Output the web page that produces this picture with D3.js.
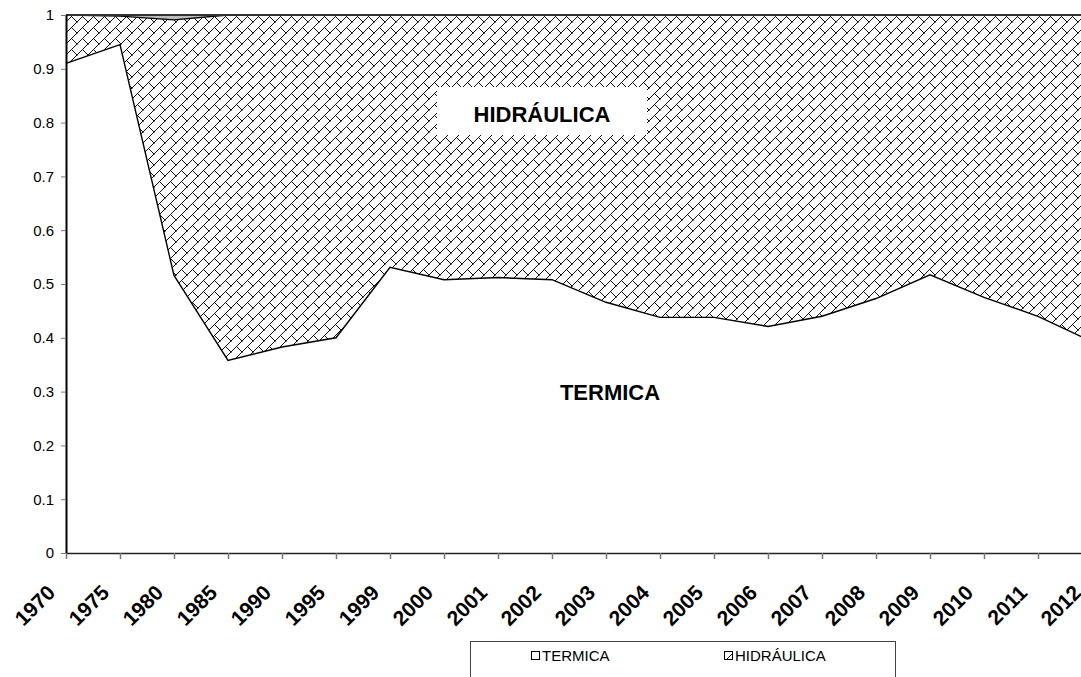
<!DOCTYPE html>
<html>
<head>
<meta charset="utf-8">
<script src="https://cdn.jsdelivr.net/npm/d3@7"></script>
<style>
  body { margin: 0; background: #fff; }
  svg { display: block; font-family: "Liberation Sans", Arial, sans-serif; }
</style>
</head>
<body>
<script>
// data (share of generation)
var years = ["1970", "1975", "1980", "1985", "1990", "1995", "1999", "2000", "2001", "2002",
  "2003", "2004", "2005", "2006", "2007", "2008", "2009", "2010", "2011", "2012"];
var termica = [0.910, 0.945, 0.516, 0.358, 0.383, 0.400, 0.531, 0.508, 0.512, 0.508,
  0.466, 0.438, 0.438, 0.421, 0.440, 0.473, 0.517, 0.475, 0.440, 0.393];
var hidraulica = [0.090, 0.053, 0.475, 0.642, 0.617, 0.600, 0.469, 0.492, 0.488, 0.492,
  0.534, 0.562, 0.562, 0.579, 0.560, 0.527, 0.483, 0.525, 0.560, 0.607];
var otras = [0, 0.002, 0.009, 0, 0, 0, 0, 0, 0, 0, 0, 0, 0, 0, 0, 0, 0, 0, 0, 0];
var yTicks = [0, 0.1, 0.2, 0.3, 0.4, 0.5, 0.6, 0.7, 0.8, 0.9, 1];
var keys = ["TERMICA", "HIDRÁULICA", "OTRAS"];

var W = 1081, H = 677;

var svg = d3.select("body").append("svg")
  .attr("width", W)
  .attr("height", H);

// diagonal brick pattern
var s = 11;
var defs = svg.append("defs");
var pat = defs.append("pattern")
  .attr("id", "brick")
  .attr("patternUnits", "userSpaceOnUse")
  .attr("width", s)
  .attr("height", s);
pat.append("rect").attr("width", s).attr("height", s).attr("fill", "#fff");
pat.append("path")
  .attr("d", "M-1," + (s + 1) + "L" + (s + 1) + ",-1" +
    "M-1,1L1,-1" +
    "M" + (s - 1) + "," + (s + 1) + "L" + (s + 1) + "," + (s - 1) +
    "M" + (s / 2) + "," + (s / 2) + "L" + (s + 1) + "," + (s + 1) +
    "M-1,-1L0.5,0.5")
  .attr("stroke", "#111")
  .attr("stroke-width", 1)
  .attr("fill", "none");

var x = d3.scalePoint().domain(years).range([66, 1092]);
var y = d3.scaleLinear().domain([0, 1]).range([553, 15]);

var rows = years.map(function (d, i) {
  return { year: d, "TERMICA": termica[i], "HIDRÁULICA": hidraulica[i], "OTRAS": otras[i] };
});
var series = d3.stack().keys(keys)(rows);

var area = d3.area()
  .x(function (d) { return x(d.data.year); })
  .y0(function (d) { return y(d[0]); })
  .y1(function (d) { return y(d[1]); });
var topLine = d3.line()
  .x(function (d) { return x(d.data.year); })
  .y(function (d) { return y(d[1]); });

var fills = ["#fff", "url(#brick)", "#bdbdbd"];

svg.selectAll("path.area")
  .data(series)
  .enter().append("path")
  .attr("class", "area")
  .attr("d", area)
  .attr("fill", function (d, i) { return fills[i]; });

svg.selectAll("path.edge")
  .data(series)
  .enter().append("path")
  .attr("class", "edge")
  .attr("d", topLine)
  .attr("fill", "none")
  .attr("stroke", function (d, i) { return i == 2 ? "#333" : "#000"; })
  .attr("stroke-width", function (d, i) { return i == 2 ? 2 : 1.4; });

// labels inside the chart
svg.append("rect")
  .attr("x", 437).attr("y", 87)
  .attr("width", 210).attr("height", 48)
  .attr("fill", "#fff");
svg.append("text")
  .attr("x", 542).attr("y", 122)
  .attr("text-anchor", "middle")
  .style("font-size", "22px")
  .style("font-weight", "bold")
  .text("HIDRÁULICA");
svg.append("text")
  .attr("x", 610).attr("y", 400)
  .attr("text-anchor", "middle")
  .style("font-size", "22px")
  .style("font-weight", "bold")
  .text("TERMICA");

// axes
var yAxis = d3.axisLeft(y)
  .tickValues(yTicks)
  .tickFormat(d3.format(".1~f"))
  .tickSize(5)
  .tickSizeOuter(0)
  .tickPadding(7);
var gy = svg.append("g")
  .attr("transform", "translate(66,0)")
  .call(yAxis);
gy.select(".domain").attr("stroke", "#000").attr("stroke-width", 2);
gy.selectAll(".tick line").attr("stroke", "#777");
gy.selectAll("text").style("font-size", "15px").attr("fill", "#000").style("font-family", "Liberation Sans, Arial, sans-serif");

var xAxis = d3.axisBottom(x).tickSize(6).tickSizeOuter(0);
var gx = svg.append("g")
  .attr("transform", "translate(0,553)")
  .call(xAxis);
gx.select(".domain").attr("stroke", "#222").attr("stroke-width", 1.5);
gx.selectAll(".tick line").attr("stroke", "#777").attr("stroke-width", 1.5);
gx.selectAll("text")
  .attr("x", 0).attr("y", 0).attr("dy", 0)
  .attr("text-anchor", "end")
  .attr("transform", "translate(-10,41) rotate(-45)")
  .attr("fill", "#000")
  .style("font-size", "21px")
  .style("font-weight", "bold")
  .style("font-family", "Liberation Sans, Arial, sans-serif");

// legend
var legend = svg.append("g");
legend.append("rect")
  .attr("x", 470.5).attr("y", 641.5)
  .attr("width", 425).attr("height", 60)
  .attr("fill", "#fff")
  .attr("stroke", "#444");
var legItems = [
  { name: "TERMICA", fill: "#fff", x: 531 },
  { name: "HIDRÁULICA", fill: "url(#brick)", x: 724 }
];
legItems.forEach(function (d) {
  legend.append("rect")
    .attr("x", d.x + 0.5).attr("y", 651.5)
    .attr("width", 8).attr("height", 8)
    .attr("fill", d.fill)
    .attr("stroke", "#000");
  legend.append("text")
    .attr("x", d.x + 11).attr("y", 661)
    .style("font-size", "15px")
    .text(d.name);
});
</script>
</body>
</html>
